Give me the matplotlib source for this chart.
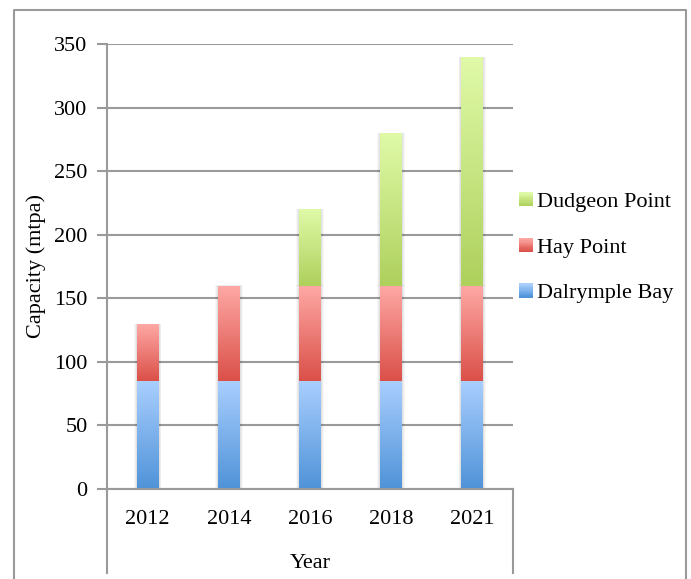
import matplotlib
matplotlib.use("Agg")
import matplotlib.pyplot as plt
from matplotlib.patches import Rectangle
from matplotlib.legend_handler import HandlerBase
from matplotlib.lines import Line2D
from matplotlib.colors import LinearSegmentedColormap
import numpy as np

years = ["2012", "2014", "2016", "2018", "2021"]
dalrymple_bay = [85, 85, 85, 85, 85]
hay_point = [45, 75, 75, 75, 75]
dudgeon_point = [0, 0, 60, 120, 180]
series_names = ["Dalrymple Bay", "Hay Point", "Dudgeon Point"]

# (bottom colour, top colour) for the gradient fills
grads = [("#4f93d8", "#aacfff"), ("#da5048", "#ffa9a6"), ("#aed05c", "#e0faa8")]

plt.rcParams['font.family'] = ['Liberation Serif', 'DejaVu Serif']
GRAY = "#9a9a9a"
FS = 16

fig = plt.figure(figsize=(6.91, 5.79), dpi=100)
ax = fig.add_axes([107 / 691, 90 / 579, 406 / 691, 445 / 579])

x = np.arange(len(years))
width = 0.27
bottoms = np.zeros(len(years))
grad_img = np.linspace(0, 1, 256).reshape(-1, 1)

for vals, (c0, c1) in zip([dalrymple_bay, hay_point, dudgeon_point], grads):
    cmap = LinearSegmentedColormap.from_list("g", [c0, c1])
    bars = ax.bar(x, vals, width, bottom=bottoms, color="none", edgecolor="none", zorder=3)
    for b in bars:
        if b.get_height() <= 0:
            continue
        x0, y0 = b.get_x(), b.get_y()
        x1, y1 = x0 + b.get_width(), y0 + b.get_height()
        # soft shadow
        for k, a in enumerate([0.05, 0.04, 0.03]):
            d = 0.012 * (k + 1)
            ax.add_patch(Rectangle((x0 - d, y0), x1 - x0 + 2 * d, y1 - y0 + d * 4,
                                   facecolor="black", alpha=a, edgecolor="none", zorder=2))
        im = ax.imshow(grad_img, cmap=cmap, origin="lower", aspect="auto",
                       extent=[x0, x1, y0, y1], zorder=3, interpolation="bilinear")
        im.set_clip_path(b)
    bottoms += np.array(vals)

ax.set_xlim(-0.5, len(years) - 0.5)
ax.set_ylim(0, 350)
ax.set_yticks(np.arange(0, 351, 50))
ax.set_xticks(x)
ax.set_xticklabels(years)
ax.yaxis.grid(True, color=GRAY, linewidth=1.5, zorder=1)
ax.set_axisbelow(True)
for s in ["top", "right", "bottom"]:
    ax.spines[s].set_visible(False)
ax.spines["left"].set_color(GRAY)
ax.spines["left"].set_linewidth(1.5)
ax.tick_params(axis="y", length=7, width=1.5, color=GRAY, pad=7, labelsize=FS)
ax.tick_params(axis="x", length=0, pad=15, labelsize=FS)
ax.set_ylabel("Capacity (mtpa)", fontsize=FS, labelpad=6)
ax.set_xlabel("Year", fontsize=FS, labelpad=18)

# category box lines below the axis
for xf in [107 / 691, 513 / 691]:
    fig.add_artist(Line2D([xf, xf], [1 - 489 / 579, 1 - 573 / 579], color=GRAY, linewidth=1.5))
fig.add_artist(Line2D([107 / 691, 513 / 691], [1 - 489 / 579, 1 - 489 / 579], color=GRAY, linewidth=1.5))

# outer frame (left, top, right)
fl, fr, ft = 14 / 691, 686 / 691, 1 - 10 / 579
fig.add_artist(Line2D([fl, fl, fr, fr], [0, ft, ft, 0], color=GRAY, linewidth=1.5))


class GradHandler(HandlerBase):
    def __init__(self, c0, c1):
        super().__init__()
        self.cmap = LinearSegmentedColormap.from_list("h", [c0, c1])

    def create_artists(self, legend, orig_handle, xdescent, ydescent, width, height, fontsize, trans):
        n = 12
        side = width
        y0 = -ydescent + (height - side) / 2
        arts = []
        for i in range(n):
            r = Rectangle((-xdescent, y0 + i * side / n), side, side / n + 0.3,
                          facecolor=self.cmap(i / (n - 1)), edgecolor="none", transform=trans)
            arts.append(r)
        return arts


handles = [Rectangle((0, 0), 1, 1) for _ in series_names]
hmap = {h: GradHandler(*g) for h, g in zip(handles, grads)}
leg = fig.legend(handles[::-1], series_names[::-1], handler_map=hmap,
                 loc="center left", bbox_to_anchor=(519 / 691, 1 - 247.5 / 579), frameon=False,
                 fontsize=FS, handlelength=0.62, handletextpad=0.18, labelspacing=1.13,
                 borderpad=0, borderaxespad=0)

fig.savefig("out.png", dpi=100)
